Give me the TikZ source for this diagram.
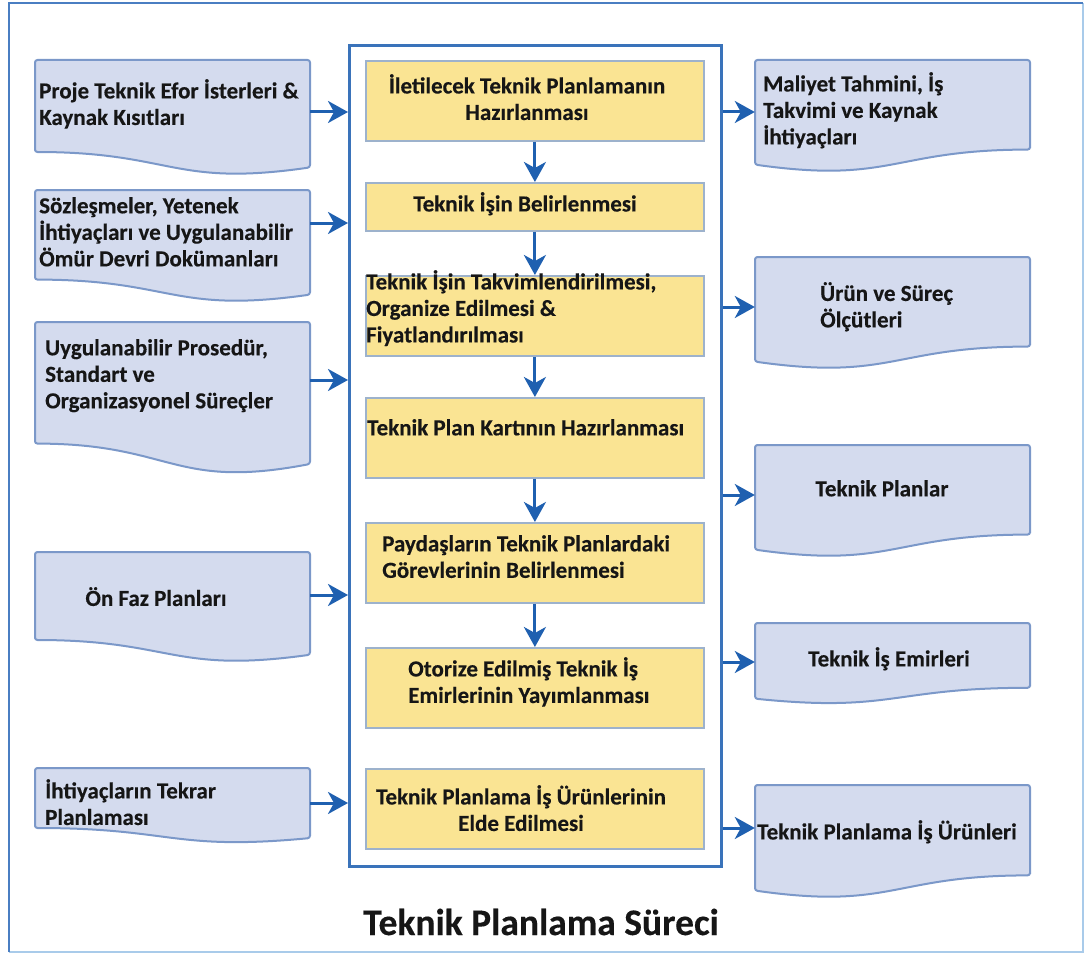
\documentclass[tikz,border=0pt]{standalone}
\usepackage{fontspec}
\setmainfont{Carlito}[BoldFeatures={FakeBold=0.25}]
\usetikzlibrary{arrows.meta,fit}
\definecolor{frameblue}{HTML}{4A7EC2}
\definecolor{framelight}{HTML}{A9CBEA}
\definecolor{docfill}{HTML}{D4DBEE}
\definecolor{docline}{HTML}{7B98C9}
\definecolor{stepfill}{HTML}{FAE493}
\definecolor{stepline}{HTML}{9DB2CC}
\definecolor{contline}{HTML}{3A73BA}
\definecolor{flowblue}{HTML}{1F60B0}
\definecolor{inktext}{HTML}{161616}

% document shape, wave rising to the right (output side)
\newcommand\outdoc[5]{% name, left x, top y, width, height
  \draw[docbody] ({#2+#4},{#3+0.8*#5}) -- ({#2+#4},#3) -- (#2,#3) -- (#2,{#3+0.934*#5})
    .. controls ({#2+0.5*#4},{#3+1.107*#5}) and ({#2+0.5*#4},{#3+0.8*#5}) .. ({#2+#4},{#3+0.8*#5}) -- cycle;
  \path (#2,#3) coordinate (#1-nw) ({#2+#4},{#3+0.8*#5}) coordinate (#1-se);
  \node[inner sep=0pt, fit=(#1-nw)(#1-se)] (#1) {};
}
% document shape, mirrored (input side)
\newcommand\indoc[5]{% name, left x, top y, width, height
  \draw[docbody] (#2,{#3+0.8*#5}) -- (#2,#3) -- ({#2+#4},#3) -- ({#2+#4},{#3+0.934*#5})
    .. controls ({#2+0.5*#4},{#3+1.107*#5}) and ({#2+0.5*#4},{#3+0.8*#5}) .. (#2,{#3+0.8*#5}) -- cycle;
  \path (#2,#3) coordinate (#1-nw) ({#2+#4},{#3+0.8*#5}) coordinate (#1-se);
  \node[inner sep=0pt, fit=(#1-nw)(#1-se)] (#1) {};
}

\begin{document}
\begin{tikzpicture}[x=1pt,y=-1pt,
  docbody/.style={draw=docline, fill=docfill, line width=2pt, rounded corners=2.5pt},
  stepbox/.style={draw=stepline, fill=stepfill, line width=1.8pt, inner sep=0pt,
    anchor=north west, minimum width=338pt},
  lbl/.style={font=\bfseries\fontsize{23}{26.5}\selectfont, text=inktext, inner sep=0pt, align=left},
  clbl/.style={lbl, align=center},
  flow/.style={draw=flowblue, line width=3pt, -{Stealth[length=20pt,width=22pt,inset=6pt]}},
]
\useasboundingbox (0,0) rectangle (1086,955);
\fill[white] (0,0) rectangle (1086,955);

% outer frame
\draw[framelight, line width=2pt] (9,952) -- (1083,952) -- (1083,3);
\draw[frameblue, line width=2.5pt] (9,952) -- (9,3) -- (1083,3);

% central process container
\node[draw=contline, line width=3pt, inner sep=0pt, anchor=north west,
  minimum width=372pt, minimum height=821pt] (C) at (348,44) {};

% process steps
\node[stepbox, minimum height=80pt] (Y1) at (365,60) {};
\node[stepbox, minimum height=48pt] (Y2) at (365,182) {};
\node[stepbox, minimum height=80pt] (Y3) at (365,275) {};
\node[stepbox, minimum height=80pt] (Y4) at (365,397) {};
\node[stepbox, minimum height=80pt] (Y5) at (365,522) {};
\node[stepbox, minimum height=80pt] (Y6) at (365,647) {};
\node[stepbox, minimum height=80pt] (Y7) at (365,768) {};

\node[clbl, anchor=north] (Y1t) at (527,74) {İletilecek Teknik Planlamanın\\Hazırlanması};
\node[clbl, anchor=north] (Y2t) at (525,192) {Teknik İşin Belirlenmesi};
\node[lbl, anchor=north west] (Y3t) at (366,270) {Teknik İşin Takvimlendirilmesi,\\Organize Edilmesi \&\\Fiyatlandırılması};
\node[lbl, anchor=north west] (Y4t) at (367,419) {Teknik Plan Kartının Hazırlanması};
\node[lbl, anchor=north west] (Y5t) at (382,535) {Paydaşların Teknik Planlardaki\\Görevlerinin Belirlenmesi};
\node[lbl, anchor=north west] (Y6t) at (408,657) {Otorize Edilmiş Teknik İş\\Emirlerinin Yayımlanması};
\node[clbl, anchor=north] (Y7t) at (521,785) {Teknik Planlama İş Ürünlerinin\\Elde Edilmesi};

\draw[flow] (Y1.south) -- (Y2.north);
\draw[flow] (Y2.south) -- (Y3.north);
\draw[flow] (Y3.south) -- (Y4.north);
\draw[flow] (Y4.south) -- (Y5.north);
\draw[flow] (Y5.south) -- (Y6.north);

% inputs
\indoc{L1}{35}{60}{275}{115}
\indoc{L2}{35}{190}{275}{112}
\indoc{L3}{35}{322}{275}{152}
\indoc{L4}{35}{552}{275}{110}
\indoc{L5}{35}{768}{275}{75}

\node[lbl, anchor=north west] (L1t) at (39,79) {Proje Teknik Efor İsterleri \&\\Kaynak Kısıtları};
\node[lbl, anchor=north west] (L2t) at (39,197) {Sözleşmeler, Yetenek\\İhtiyaçları ve Uygulanabilir\\Ömür Devri Dokümanları};
\node[lbl, anchor=north west] (L3t) at (45,339) {Uygulanabilir Prosedür,\\Standart ve\\Organizasyonel Süreçler};
\node[clbl, anchor=north] (L4t) at (156,587) {Ön Faz Planları};
\node[lbl, anchor=north west] (L5t) at (45,779) {İhtiyaçların Tekrar\\Planlaması};

\draw[flow] (L1.east |- 0,112) -- (C.west |- 0,112);
\draw[flow] (L2.east |- 0,223) -- (C.west |- 0,223);
\draw[flow] (L3.east |- 0,380) -- (C.west |- 0,380);
\draw[flow] (L4.east |- 0,595) -- (C.west |- 0,595);
\draw[flow] (L5.east |- 0,803) -- (C.west |- 0,803);

% outputs
\outdoc{R1}{755}{60}{275}{112}
\outdoc{R2}{755}{257}{275}{112}
\outdoc{R3}{755}{445}{275}{112}
\outdoc{R4}{755}{623}{275}{81}
\outdoc{R5}{755}{785}{275}{113}

\node[lbl, anchor=north west] (R1t) at (763,72) {Maliyet Tahmini, İş\\Takvimi ve Kaynak\\İhtiyaçları};
\node[lbl, anchor=north west] (R2t) at (820,282) {Ürün ve Süreç\\Ölçütleri};
\node[clbl, anchor=north] (R3t) at (882,480) {Teknik Planlar};
\node[clbl, anchor=north] (R4t) at (889,647) {Teknik İş Emirleri};
\node[clbl, anchor=north] (R5t) at (887,820) {Teknik Planlama İş Ürünleri};

\draw[flow] (C.east |- 0,112) -- (R1.west |- 0,112);
\draw[flow] (C.east |- 0,307) -- (R2.west |- 0,307);
\draw[flow] (C.east |- 0,495) -- (R3.west |- 0,495);
\draw[flow] (C.east |- 0,662) -- (R4.west |- 0,662);
\draw[flow] (C.east |- 0,828) -- (R5.west |- 0,828);

% caption
\node[font=\bfseries\fontsize{37.5}{42}\selectfont, text=inktext, inner sep=0pt, anchor=base]
  (title) at (541,935) {Teknik Planlama Süreci};
\end{tikzpicture}
\end{document}
